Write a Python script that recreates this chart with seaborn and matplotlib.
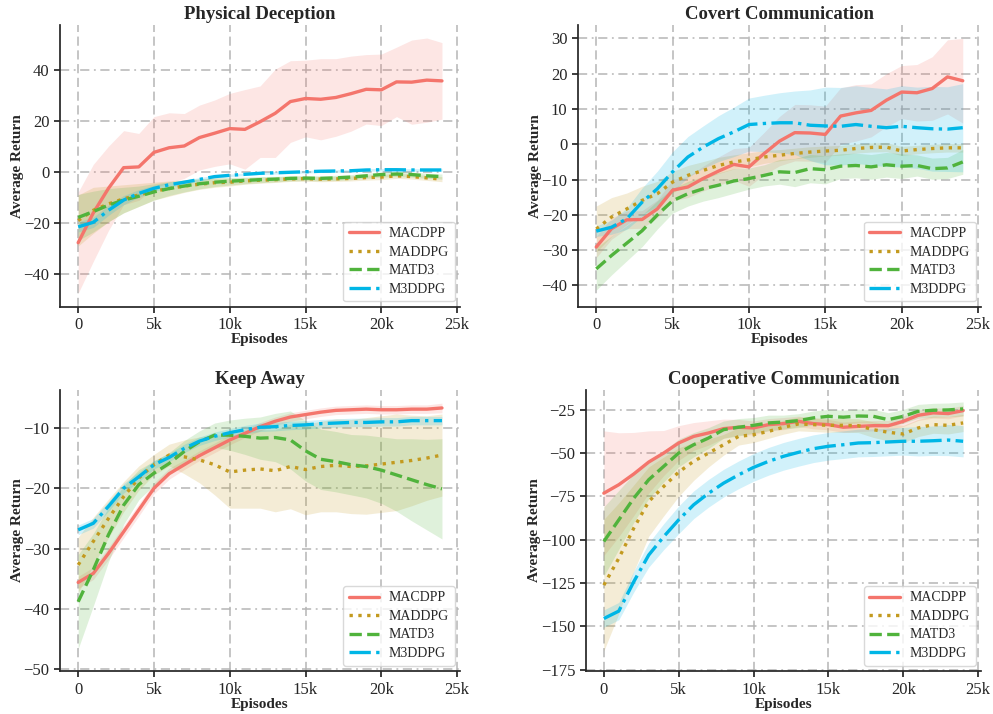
import matplotlib
matplotlib.use("Agg")
import matplotlib.pyplot as plt
import seaborn as sns
import numpy as np
from matplotlib.ticker import FuncFormatter, MultipleLocator

sns.set_theme(style="ticks")
plt.rcParams['font.family'] = ['Liberation Serif', 'DejaVu Serif']

episodes = list(range(0, 25000, 1000))
algos = ['MACDPP', 'MADDPG', 'MATD3', 'M3DDPG']
colors = ['#F4756C', '#C39A1F', '#50B33C', '#00B6E6']
styles = ['-', ':', '--', '-.']

# Physical Deception
pd_macdpp = [-27.7, -16, -6.4, 1.7, 2, 7.7, 9.5, 10.2, 13.5, 15.2, 17, 16.7, 19.7, 23, 27.6,
             28.8, 28.5, 29.2, 30.7, 32.4, 32.2, 35.3, 35.2, 36, 35.7]
pd_macdpp_sd = [19.8, 19, 16.5, 14.5, 13.1, 14, 13.7, 12.7, 12.7, 13, 13.8, 15.6, 14, 17.3, 16,
                15, 15.9, 15.2, 14.7, 13.6, 14, 13.6, 16.5, 16.5, 15]
pd_maddpg = [-19, -15, -12.5, -10.5, -9, -7.5, -6.5, -5.5, -4.8, -4.2, -4, -3.5, -3.2, -3, -2.7,
             -2.6, -2.8, -2.7, -2.5, -2.2, -2, -1.5, -1.8, -2.3, -2.8]
pd_maddpg_sd = [10, 9, 7, 5.5, 4.5, 3.5, 3, 2.5, 2, 1.8, 1.5, 1.3, 1.2, 1.1, 1, 1, 1, 1, 1, 1,
                1, 1, 1, 1, 1]
pd_matd3 = [-17.8, -15.5, -13, -11, -9.5, -7.8, -6.5, -5.5, -4.6, -4, -3.6, -3.3, -3, -2.8, -2.5,
            -2.4, -2.5, -2.3, -2, -1.5, -1, -0.8, -1, -1.5, -1.8]
pd_matd3_sd = [9, 8, 6.5, 5, 4, 3.2, 2.7, 2.3, 2, 1.7, 1.5, 1.3, 1.2, 1.1, 1, 1, 1, 1, 1, 1,
               1, 1, 1, 1, 1]
pd_m3ddpg = [-21.5, -19.7, -15, -11, -8.4, -6.4, -5, -4, -2.9, -1.8, -1.3, -0.9, -0.5, -0.3, -0.1,
             0.1, 0.3, 0.4, 0.5, 0.8, 0.9, 0.9, 0.8, 0.8, 0.8]
pd_m3ddpg_sd = [2, 2, 2, 1.8, 1.5, 1.2, 1, 0.8, 0.7, 0.6, 0.5, 0.5, 0.5, 0.5, 0.5, 0.5, 0.5, 0.5,
                0.5, 0.5, 0.5, 0.5, 0.5, 0.5, 0.5]

# Covert Communication
cc_macdpp = [-29.1, -23.9, -21.4, -21.3, -18.3, -13, -12.1, -9.7, -7.6, -5.7, -6.4, -2.6, 0.9, 3.3,
             3.2, 2.8, 8, 8.9, 9.6, 12.5, 14.8, 14.6, 15.8, 19.1, 18]
cc_macdpp_sd = [3, 3, 2.5, 2.5, 2.5, 3, 3, 3.5, 4, 4.5, 5.5, 6, 7, 8, 8, 8, 8, 8, 7.5, 7.5, 7.5,
                8, 9, 10.5, 12]
cc_maddpg = [-24, -20.6, -18.3, -15.9, -14, -10.7, -8.8, -7.4, -6, -5, -4.4, -3.6, -3.1, -2.6, -2.2,
             -1.9, -1.7, -1.2, -0.9, -0.8, -1.9, -1.5, -1.2, -1, -1]
cc_maddpg_sd = [6.5, 5.5, 4.5, 4, 3.5, 3, 2.8, 2.5, 2.3, 2, 2, 1.8, 1.6, 1.5, 1.5, 1.4, 1.4, 1.3,
                1.3, 1.3, 1.3, 1.2, 1.2, 1.2, 1.2]
cc_matd3 = [-35.3, -31.5, -28, -24.5, -20, -16, -14, -12.6, -11.6, -10.4, -9.7, -8.8, -7.8, -8, -6.9,
            -7.2, -6.2, -6, -6.4, -5.8, -6.2, -6, -6.9, -6.7, -5]
cc_matd3_sd = [6, 5.5, 5, 4.5, 4, 3.5, 3.5, 3.5, 3.5, 3.5, 3, 3, 3.5, 4, 4, 4, 3.5, 3.5, 3.5, 3.5,
               3.5, 3, 3, 3, 3.5]
cc_m3ddpg = [-24.6, -23.5, -21.1, -16.4, -12.6, -7.8, -3.6, -0.8, 1.6, 3.5, 5.6, 5.9, 6.1, 6.1, 5.4,
             5.2, 5.1, 5.6, 5.1, 4.7, 5.1, 4.7, 4.4, 4.3, 4.7]
cc_m3ddpg_sd = [1.5, 2, 3, 4, 5, 5.7, 5.8, 6, 6.5, 7, 7.5, 8, 8.5, 9, 10, 11, 11, 11, 11, 11, 11.5,
                11.5, 12, 12, 12.5]

# Keep Away
ka_macdpp = [-35.6, -34.1, -30.8, -27.2, -23.6, -20, -17.6, -16.1, -14.6, -13.3, -12, -10.9, -9.8,
             -8.9, -8.2, -7.8, -7.4, -7.1, -7, -6.9, -7, -7, -6.9, -6.9, -6.7]
ka_macdpp_sd = [1, 1, 1, 1, 1, 0.9, 0.9, 0.8, 0.8, 0.8, 0.8, 0.7, 0.7, 0.7, 0.7, 0.7, 0.7, 0.7,
                0.7, 0.7, 0.7, 0.7, 0.7, 0.7, 0.8]
ka_maddpg = [-32.7, -28.8, -25, -21.4, -18.3, -16.1, -14.5, -14.8, -15.3, -16.1, -17.3, -17, -16.8,
             -17.1, -16.4, -16.9, -16.4, -16.2, -16.4, -16.3, -16, -15.7, -15.4, -15, -14.5]
ka_maddpg_sd = [4.6, 4, 3.2, 2.5, 2, 1.7, 1.8, 2.8, 3.8, 5, 6, 6.3, 6.5, 6.8, 7, 7.5, 7.5, 7.7,
                7.8, 8, 8, 8, 7.5, 7, 6.8]
ka_matd3 = [-38.8, -33.5, -27.7, -22.8, -19.4, -17.5, -15.9, -13.9, -12.3, -11.2, -11.2, -11.4,
            -11.7, -11.6, -12, -13.8, -15.2, -15.6, -16.1, -16.4, -17, -17.8, -18.6, -19.4, -20.1]
ka_matd3_sd = [7.8, 6, 4.5, 3.2, 2.5, 2, 1.8, 1.8, 1.8, 2, 2.5, 3, 3.5, 4, 4.8, 5, 5, 5, 5, 5.2,
               5.5, 6, 6.8, 7.5, 8.3]
ka_m3ddpg = [-26.9, -25.8, -23, -20, -18.1, -16.1, -14.9, -13.4, -12.2, -11.4, -10.8, -10.3, -9.9,
             -9.8, -9.6, -9.5, -9.3, -9.2, -9.1, -9.1, -9, -9, -8.8, -8.8, -8.8]
ka_m3ddpg_sd = [0.8, 0.8, 0.8, 0.8, 0.8, 0.7, 0.7, 0.7, 0.7, 0.7, 0.7, 0.7, 0.7, 0.7, 0.7, 0.7,
                0.7, 0.7, 0.7, 0.7, 0.7, 0.7, 0.7, 0.7, 0.7]

# Cooperative Communication
co_macdpp = [-73.1, -68.2, -62, -55.1, -49.9, -44.1, -40.3, -38.3, -35.8, -35, -35.4, -33.5, -32.9,
             -31.6, -32.9, -33.5, -35, -34.5, -34.1, -34.1, -31.6, -28.1, -26.7, -27.1, -25.4]
co_macdpp_sd = [36, 30, 24, 18, 13, 10, 8, 7, 5.5, 4.5, 4, 3.5, 3.5, 3, 3, 3, 3, 3, 3, 3, 3, 3,
                3, 3, 3]
co_maddpg = [-126.2, -110.7, -93.3, -77.9, -69.2, -60.9, -54.7, -49.9, -45.1, -40.3, -39.3, -37.4,
             -35, -33.1, -33.5, -33.9, -33.9, -34.1, -36.4, -37.9, -38.9, -35.4, -33.5, -33.9, -32.5]
co_maddpg_sd = [38, 32, 25, 20, 17, 14, 11, 8, 6, 5, 4.5, 4, 4, 4, 4, 4, 4, 4, 4.5, 5, 5, 5, 5,
                5, 5]
co_matd3 = [-101, -88.5, -76, -65.3, -57.6, -49.9, -45.1, -41.2, -36.4, -35, -33.9, -32.5, -32,
            -31.2, -29.6, -28.7, -29.2, -28.5, -28.7, -30.6, -28.7, -25.8, -25.2, -25, -24.4]
co_matd3_sd = [20, 17, 14, 11, 9, 8, 7, 6, 5, 5, 4.5, 4.5, 4, 4, 4, 4, 4, 4, 4, 4, 4, 4, 4, 4, 4]
co_m3ddpg = [-145.5, -141.2, -124.2, -108.8, -98.2, -88.5, -79.8, -73.1, -67.3, -62.5, -58.2,
             -54.7, -51.8, -49.5, -47.4, -46, -45.1, -44.1, -43.9, -43.5, -43.1, -43.1, -42.8,
             -42.4, -43.1]
co_m3ddpg_sd = [5, 5, 6, 7, 7.5, 8, 8, 8, 8, 8, 8, 8, 8, 8, 8, 8, 8, 8, 8, 8, 8, 8.5, 8.5, 9, 9]

panels = [
    ('Physical Deception', [pd_macdpp, pd_maddpg, pd_matd3, pd_m3ddpg],
     [pd_macdpp_sd, pd_maddpg_sd, pd_matd3_sd, pd_m3ddpg_sd], (-52.9, 57.6), 20),
    ('Covert Communication', [cc_macdpp, cc_maddpg, cc_matd3, cc_m3ddpg],
     [cc_macdpp_sd, cc_maddpg_sd, cc_matd3_sd, cc_m3ddpg_sd], (-46.1, 33.8), 10),
    ('Keep Away', [ka_macdpp, ka_maddpg, ka_matd3, ka_m3ddpg],
     [ka_macdpp_sd, ka_maddpg_sd, ka_matd3_sd, ka_m3ddpg_sd], (-50.3, -3.7), 10),
    ('Cooperative Communication', [co_macdpp, co_maddpg, co_matd3, co_m3ddpg],
     [co_macdpp_sd, co_maddpg_sd, co_matd3_sd, co_m3ddpg_sd], (-175.9, -13.4), 25),
]

positions = [
    [0.0604, 0.570, 0.403, 0.395],
    [0.582, 0.570, 0.406, 0.395],
    [0.0604, 0.060, 0.403, 0.394],
    [0.590, 0.060, 0.398, 0.394],
]

fig, axes = plt.subplots(2, 2, figsize=(9.93, 7.14), dpi=100)
x = np.array(episodes)

for ax, pos, (title, means, sds, ylim, step) in zip(axes.flat, positions, panels):
    ax.set_position(pos)
    for name, m, s, c, ls in zip(algos, means, sds, colors, styles):
        m = np.array(m)
        s = np.array(s)
        ax.fill_between(x, m - s, m + s, color=c, alpha=0.18, linewidth=0)
        sns.lineplot(x=x, y=m, ax=ax, color=c, linestyle=ls, linewidth=2.4, label=name)
    ax.set_ylim(*ylim)
    ax.set_xticks(range(0, 25001, 5000))
    ax.xaxis.set_major_formatter(FuncFormatter(lambda v, p: '0' if v == 0 else f'{int(v/1000)}k'))
    ax.yaxis.set_major_locator(MultipleLocator(step))
    ax.xaxis.grid(True, linestyle=(0, (6, 3)), color='#b5b5b5', linewidth=1.1)
    ax.yaxis.grid(True, linestyle=(0, (6, 3, 1.2, 3)), color='#b5b5b5', linewidth=1.1)
    ax.set_title(title, fontsize=13.5, fontweight='bold', pad=4)
    ax.set_xlabel('Episodes', fontsize=11, fontweight='bold', labelpad=0)
    ax.set_ylabel('Average Return', fontsize=11, fontweight='bold', labelpad=0)
    ax.tick_params(labelsize=12, length=4)
    leg = ax.legend(loc='lower right', fontsize=10, frameon=True, fancybox=True,
                    handlelength=2.2, handletextpad=0.7, borderpad=0.4, labelspacing=0.4,
                    borderaxespad=0.4)
    leg.get_frame().set_edgecolor('#d0d0d0')
    sns.despine(ax=ax)

fig.savefig('out.png', dpi=100)
